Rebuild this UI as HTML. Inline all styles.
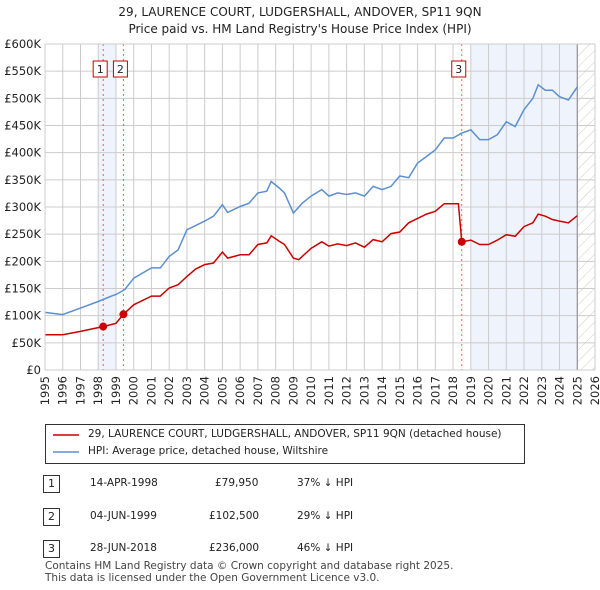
<!DOCTYPE html>
<html><head><meta charset="utf-8"><style>
body{margin:0;background:#fff;font-family:"DejaVu Sans","Liberation Sans",sans-serif;}
#wrap{position:relative;width:600px;height:590px;overflow:hidden}
.t{position:absolute;font-size:11px;color:#222;white-space:nowrap}
svg text{font-family:"DejaVu Sans","Liberation Sans",sans-serif}
</style></head><body><div id="wrap">
<div class="t" style="left:0;width:600px;text-align:center;top:4px;font-size:12px;line-height:17px">29, LAURENCE COURT, LUDGERSHALL, ANDOVER, SP11 9QN<br>Price paid vs. HM Land Registry's House Price Index (HPI)</div>
<svg id="chart" width="600" height="420" style="position:absolute;left:0;top:0"></svg>
<div style="position:absolute;left:45px;top:424px;width:478px;height:38px;border:1px solid #333">
<svg width="40" height="38" style="position:absolute;left:0;top:0"><line x1="7" y1="10" x2="33" y2="10" stroke="#cc0000" stroke-width="1.5"/><line x1="7" y1="27" x2="33" y2="27" stroke="#5b8fd0" stroke-width="1.5"/></svg>
<div class="t" style="left:42px;top:3px;font-size:10.5px">29, LAURENCE COURT, LUDGERSHALL, ANDOVER, SP11 9QN (detached house)</div>
<div class="t" style="left:42px;top:20px;font-size:10.5px">HPI: Average price, detached house, Wiltshire</div>
</div>
<div>
<div class="t" style="left:43px;top:475px;width:15px;height:16px;border:1px solid #333;text-align:center;font-size:11px;line-height:16px">1</div>
<div class="t" style="left:90px;top:477px;font-size:10.5px">14-APR-1998</div>
<div class="t" style="left:215px;top:477px;font-size:10.5px">£79,950</div>
<div class="t" style="left:297px;top:477px;font-size:10.5px">37% ↓ HPI</div>
<div class="t" style="left:43px;top:508px;width:15px;height:16px;border:1px solid #333;text-align:center;font-size:11px;line-height:16px">2</div>
<div class="t" style="left:90px;top:510px;font-size:10.5px">04-JUN-1999</div>
<div class="t" style="left:209px;top:510px;font-size:10.5px">£102,500</div>
<div class="t" style="left:297px;top:510px;font-size:10.5px">29% ↓ HPI</div>
<div class="t" style="left:43px;top:540px;width:15px;height:16px;border:1px solid #333;text-align:center;font-size:11px;line-height:16px">3</div>
<div class="t" style="left:90px;top:542px;font-size:10.5px">28-JUN-2018</div>
<div class="t" style="left:209px;top:542px;font-size:10.5px">£236,000</div>
<div class="t" style="left:297px;top:542px;font-size:10.5px">46% ↓ HPI</div>
</div>
<div class="t" style="left:45px;top:560px;font-size:10.5px;line-height:12px;color:#444">Contains HM Land Registry data © Crown copyright and database right 2025.<br>This data is licensed under the Open Government Licence v3.0.</div>
</div>
<script>
const hpiYears=[1995,1996,1997,1998,1998.75,1999,1999.5,2000,2001,2001.5,2002,2002.5,2003,2004,2004.5,2005,2005.3,2006,2006.5,2007,2007.5,2007.75,2008.2,2008.5,2009,2009.5,2010,2010.6,2011,2011.5,2012,2012.5,2013,2013.5,2014,2014.5,2015,2015.5,2016,2016.5,2017,2017.5,2018,2018.5,2019,2019.5,2020,2020.5,2021,2021.5,2022,2022.5,2022.8,2023.2,2023.6,2024,2024.5,2025];
const hpiValues=[106,102,114,126,136,139,148,169,188,188,209,221,258,274,283,304,290,301,307,326,329,347,335,326,289,307,320,332,320,326,323,326,320,338,332,338,357,354,381,393,405,427,427,436,442,424,424,433,457,448,479,500,525,515,515,503,497,521];
const ppYears=[1995,1996,1997,1998,1998.28,1999,1999.42,2000,2001,2001.5,2002,2002.5,2003,2003.5,2004,2004.5,2005,2005.3,2006,2006.5,2007,2007.5,2007.75,2008.2,2008.5,2009,2009.3,2010,2010.6,2011,2011.5,2012,2012.5,2013,2013.5,2014,2014.5,2015,2015.5,2016,2016.5,2017,2017.5,2018.3,2018.49,2019,2019.5,2020,2020.5,2021,2021.5,2022,2022.5,2022.8,2023.2,2023.6,2024,2024.5,2025];
const ppValues=[65,65,71,78,79.95,86,102.5,120,136,136,151,157,172,186,194,197,217,206,212,212,231,234,247,237,231,206,203,224,236,228,232,229,234,226,240,236,251,254,271,279,287,292,306,306,236,239,231,231,239,249,246,264,271,287,283,277,274,271,284];
const saleYears=[1998.28,1999.42,2018.49];
const saleValues=[79.95,102.5,236];
const saleLabels=["1","2","3"];
const yTicks=[0,50,100,150,200,250,300,350,400,450,500,550,600];
const xTicks=[1995,1996,1997,1998,1999,2000,2001,2002,2003,2004,2005,2006,2007,2008,2009,2010,2011,2012,2013,2014,2015,2016,2017,2018,2019,2020,2021,2022,2023,2024,2025,2026];
const L=45,R=595,T=44,B=370;
const X=y=>L+(y-1995)*(R-L)/31;
const Y=v=>B-v*(B-T)/600;
const svg=document.getElementById('chart');const NS='http://www.w3.org/2000/svg';
function mk(tag,a,p){const e=document.createElementNS(NS,tag);for(const k in a)e.setAttribute(k,a[k]);(p||svg).appendChild(e);return e;}
let e;
e=mk('rect',{x:X(1998),y:T,width:X(1999)-X(1998),height:B-T,fill:'#eef3fc'});


e=mk('rect',{x:X(2019),y:T,width:X(2025)-X(2019),height:B-T,fill:'#eef3fc'});


const defs=mk('defs',{});const pat=mk('pattern',{id:'h',width:8,height:8,patternUnits:'userSpaceOnUse',patternTransform:'rotate(45)'},defs);mk('line',{x1:0,y1:0,x2:0,y2:8,stroke:'#ccc','stroke-width':1},pat);
e=mk('rect',{x:X(2025),y:T,width:R-X(2025),height:B-T,fill:'url(#h)'});


yTicks.forEach(v=>{
 e=mk('line',{x1:L,x2:R,y1:Y(v),y2:Y(v),stroke:'#ccc'});
 
 
 e=mk('text',{x:L-4,y:Y(v)+4,'text-anchor':'end','font-size':11.5,fill:'#222'});e.textContent=v==0?'£0':'£'+v+'K';
 
 
});
xTicks.forEach(yr=>{
 e=mk('line',{x1:X(yr),x2:X(yr),y1:T,y2:B,stroke:'#ccc'});
 
 
 e=mk('text',{x:0,y:0,'text-anchor':'end','font-size':11.5,fill:'#222',transform:`translate(${X(yr)+4},${B+6}) rotate(-90)`});e.textContent=yr;
 
 
});
e=mk('line',{x1:X(2025),x2:X(2025),y1:T,y2:B,stroke:'#888'});


saleYears.forEach((yr,i)=>{
 e=mk('line',{x1:X(yr),x2:X(yr),y1:T,y2:B,stroke:'#e06060','stroke-dasharray':'2,3'});
 
 
});
const pts=(xs,vs)=>xs.map((x,i)=>X(x).toFixed(1)+','+Y(vs[i]).toFixed(1)).join(' ');
e=mk('polyline',{points:pts(hpiYears,hpiValues),fill:'none',stroke:'#5b8fd0','stroke-width':1.5});


e=mk('polyline',{points:pts(ppYears,ppValues),fill:'none',stroke:'#cc0000','stroke-width':1.5});


saleYears.forEach((yr,i)=>{
 e=mk('circle',{cx:X(yr),cy:Y(saleValues[i]),r:4,fill:'#cc0000'});
 
 
 const cx=X(yr)-4;
 e=mk('rect',{x:cx-6,y:61,width:14,height:16,fill:'#fff',stroke:'#cc0000'});
 
 
 e=mk('text',{x:cx+1,y:73,'text-anchor':'middle','font-size':11,fill:'#222'});e.textContent=saleLabels[i];
 
 
});
e=mk('rect',{x:L,y:T,width:R-L,height:B-T,fill:'none',stroke:'#ccc'});


</script></body></html>
